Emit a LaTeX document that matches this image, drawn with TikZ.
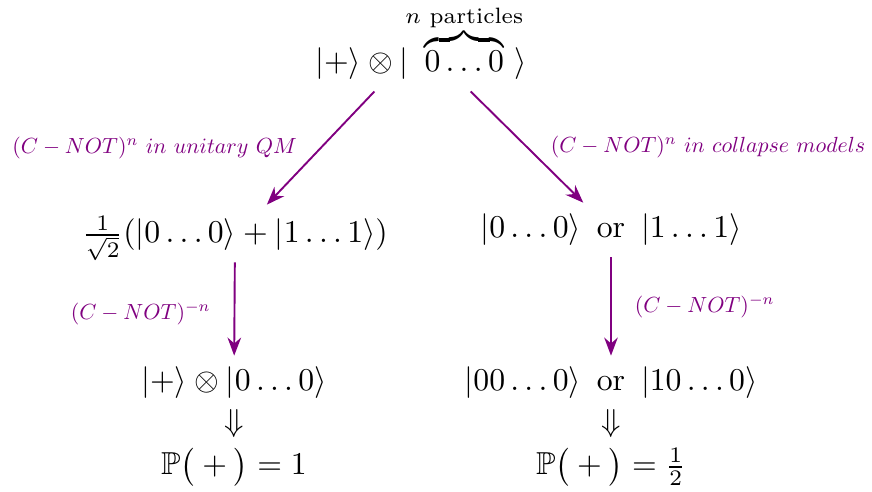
\documentclass[tikz,border=0pt]{standalone}
\usepackage{amsmath, amssymb, mathtools}
\usetikzlibrary{arrows.meta,positioning}

\begin{document}
\begin{tikzpicture}[x=0.315pt, y=-0.315pt, semithick, >=Stealth]
        \tikzset{qstate/.style={inner sep=3.33pt}, cnot/.style={->, violet}, lbl/.style={scale=0.69, transform shape, violet}}
        \useasboundingbox (0,0) rectangle (872,492);

        % Estado inicial
        \node[qstate, anchor=base] (top) at (421,72) {$|+\rangle \otimes |\ \overbrace{0\ldots 0}^{\mathclap{n \text{ particles}}}\ \rangle$};

        % Ramo unitario
        \node[qstate, anchor=base] (lA) at (235,243) {$\frac{1}{\sqrt{2}}(|0\ldots0\rangle + |1\ldots1\rangle)$};
        \node[qstate, anchor=base] (lB) at (234,391) {$|+\rangle\otimes|0\ldots0\rangle$};
        \node[below=-4pt of lB] (lImp) {$\Downarrow$};
        \node[below=-4pt of lImp] (lP) {$\mathbb{P}\big(+\big)=1$};

        % Ramo colapso
        \node[qstate, anchor=base] (rA) at (611,238) {$|0\ldots0\rangle\ \,\text{or}\,\ |1\ldots1\rangle$};
        \node[qstate, anchor=base] (rB) at (611,391) {$|00\ldots0\rangle\ \,\text{or}\,\ |10\ldots0\rangle$};
        \node[below=-4pt of rB] (rImp) {$\Downarrow$};
        \node[below=-4pt of rImp] (rP) {$\mathbb{P}\big(+\big)=\frac{1}{2}$};

        % Setas C-NOT
        \draw[cnot] (top) -- node[lbl, midway, left=5pt] {$(C-NOT)^n\ in\ unitary\ QM$} (lA);
        \draw[cnot] (top) -- node[lbl, midway, right=5pt] {$(C-NOT)^n\ in\ collapse\ models$} (rA);
        \draw[cnot, shorten <=-3pt] (lA) -- node[lbl, midway, left=5pt] {$(C-NOT)^{-n}$} (lB);
        \draw[cnot] (rA) -- node[lbl, midway, right=5pt] {$(C-NOT)^{-n}$} (rB);
    \end{tikzpicture}
\end{document}
